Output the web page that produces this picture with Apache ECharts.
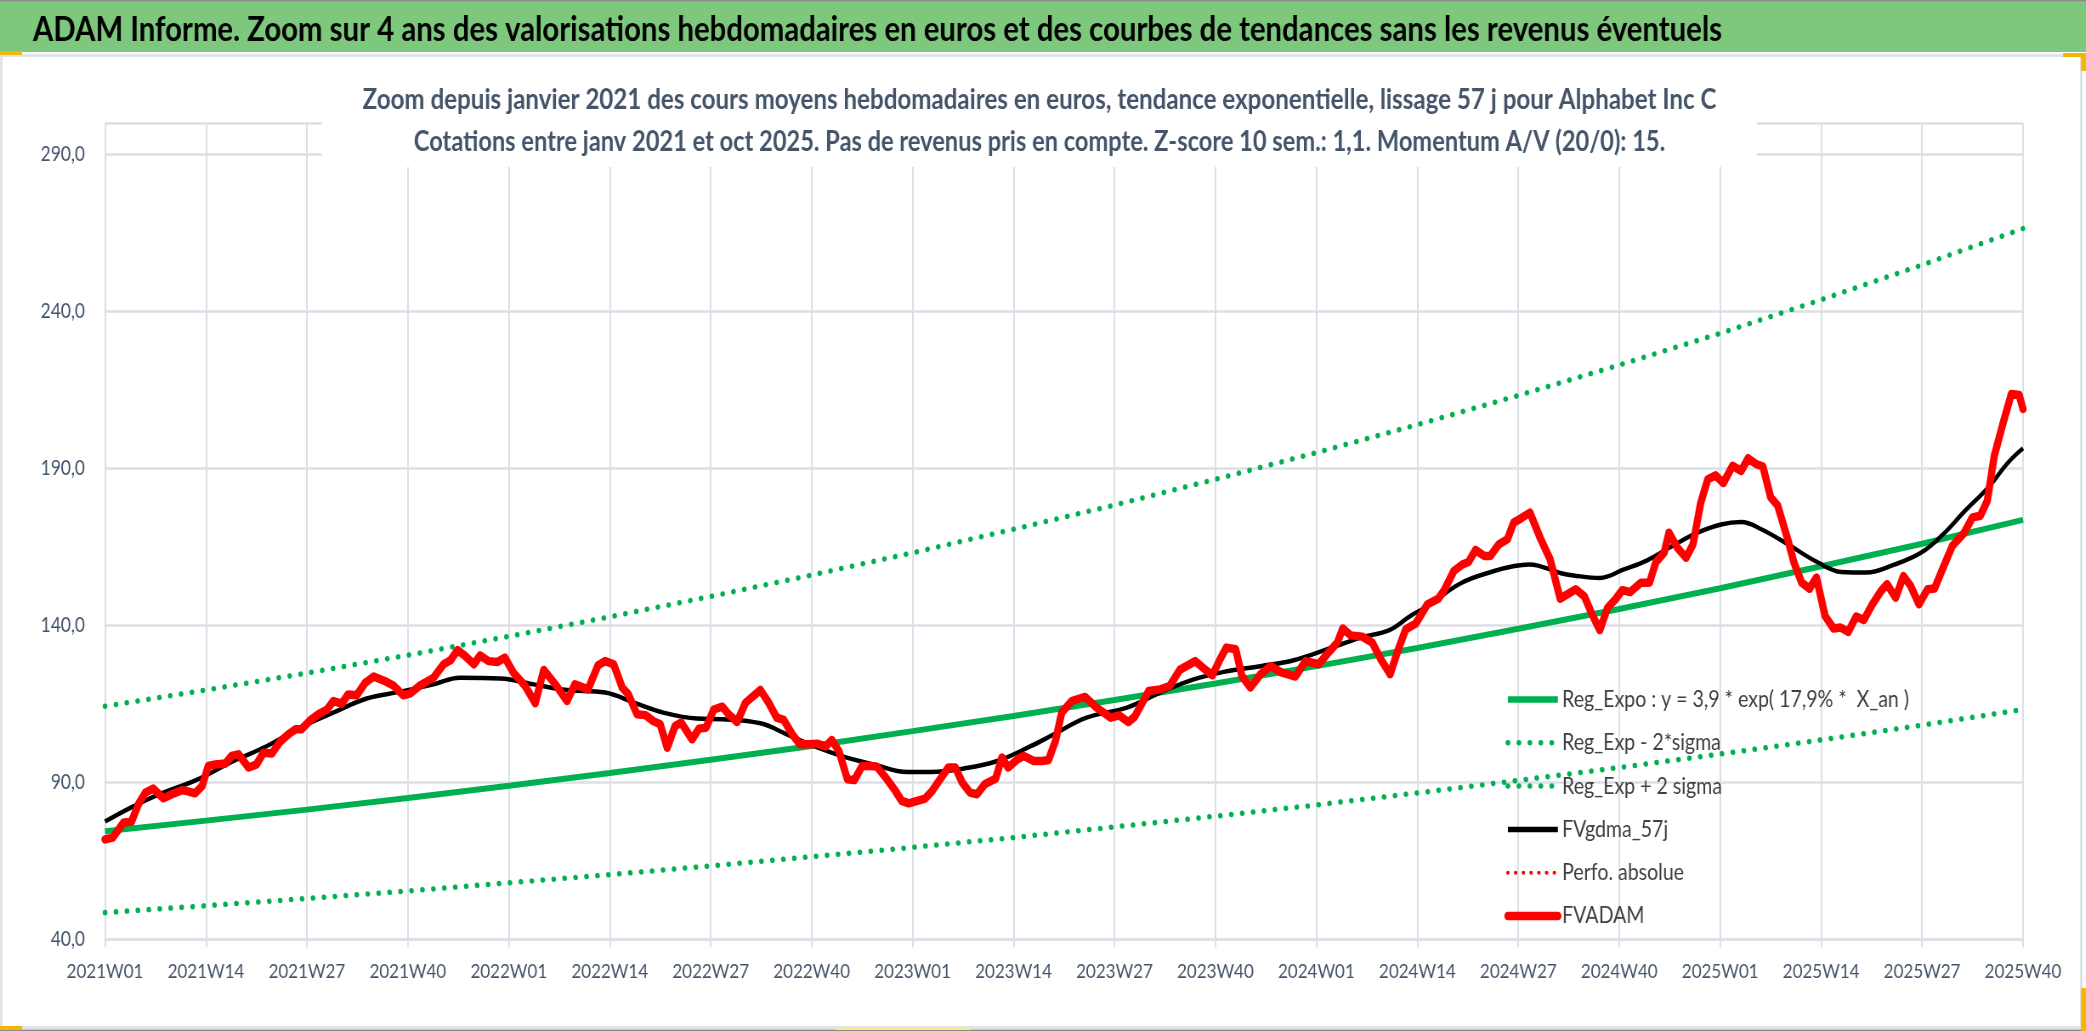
<!DOCTYPE html>
<html>
<head>
<meta charset="utf-8">
<title>ADAM Informe - Alphabet Inc C</title>
<script src="https://cdn.jsdelivr.net/npm/echarts@6/dist/echarts.min.js"></script>
<style>
  html, body { margin: 0; padding: 0; background: #fff; overflow: hidden; }
  /* the reference picture is squeezed horizontally, so the chart is drawn wider and squeezed back */
  #main { width: 2454px; height: 1031px; transform: scaleX(0.85); transform-origin: 0 0; }
</style>
</head>
<body>
<div id="main"></div>
<script>
const SX = 0.85;
const X = v => v / SX;

// x axis: one point per week, a label every 13 weeks
const weekLabels = ['2021W01','2021W14','2021W27','2021W40','2022W01','2022W14','2022W27','2022W40',
  '2023W01','2023W14','2023W27','2023W40','2024W01','2024W14','2024W27','2024W40',
  '2025W01','2025W14','2025W27','2025W40'];
const labelStep = 13;
const yMin = 40, yMax = 300, yStep = 50;

// regression and bands, read at each labelled week
const regExpo = [74.4, 77.8, 81.3, 85.0, 88.9, 93.0, 97.2, 101.6, 106.3, 111.1,
  116.2, 121.5, 127.0, 132.8, 138.9, 145.2, 151.8, 158.8, 166.0, 173.6];
const regLow = [48.5, 50.7, 53.0, 55.4, 58.0, 60.6, 63.4, 66.3, 69.3, 72.4,
  75.8, 79.2, 82.8, 86.6, 90.6, 94.7, 99.0, 103.5, 108.2, 113.2];
const regHigh = [114.2, 119.4, 124.8, 130.5, 136.5, 142.7, 149.2, 156.0, 163.1, 170.6,
  178.3, 186.5, 195.0, 203.9, 213.2, 222.9, 233.0, 243.7, 254.8, 266.4];

// [week index, value]
const fvgdma = [[0,77.5],[3.2,81.8],[7.1,86.3],[11.8,90.8],[16.5,96.7],[20.8,101.5],[25.1,107.4],
  [29.4,112.2],[33.7,116.7],[37.9,118.8],[42.3,121.2],[45.7,123.3],[50.9,123.1],[55.2,121.2],
  [59.5,119.4],[64.4,118.6],[68.3,115.2],[71.9,112.2],[76.2,110.3],[79.6,110.1],[84.4,108.8],
  [87.8,105.3],[91.3,101.5],[95.1,98.2],[99,95.7],[103.3,93.3],[106.3,93.3],[110.6,94.4],
  [114.9,96.8],[119.2,101.5],[122.2,105.3],[126.4,110.6],[131.6,113.8],[135.9,118.6],[140.2,122.8],
  [144.5,125.4],[148.8,127.0],[153.1,128.9],[157.4,132.4],[161.7,136.1],[165.4,138.5],[168.1,143.0],
  [170.3,146.1],[174.6,153.4],[178.9,157.3],[181.5,158.9],[183.4,159.4],[187.5,156.6],[189.1,155.9],
  [192.5,155.1],[195.6,157.8],[198.6,160.7],[202,165.5],[205.1,169.5],[208.1,172.1],[210.7,172.9],
  [213.3,170.6],[216.7,165.8],[220.6,160.0],[223.6,157.0],[226.8,156.8],[230.5,159.4],[233.9,163.2],
  [236.5,168.5],[239.5,176.4],[242.5,183.9],[245.1,191.9],[247,196.4]];

const fvadam = [[0,71.8],[1,72.4],[2.4,77.2],[3.4,77.4],[4.3,83.0],[5.2,86.7],[6.2,88.0],[7.5,84.9],
  [8.6,86.2],[9.9,87.5],[10.7,87.1],[11.6,86.5],[12.5,88.8],[13.3,95.2],[14.2,95.7],[15.5,96.0],
  [16.3,98.4],[17.2,98.9],[18.5,94.7],[19.5,95.7],[20.4,99.4],[21.5,99.2],[22.5,102.8],[23.6,105.3],
  [24.5,106.9],[25.3,106.9],[26.4,109.7],[27.5,111.7],[28.6,113.2],[29.4,115.9],[30.5,115.1],
  [31.3,118.0],[32.4,117.7],[33.5,121.7],[34.6,123.7],[36.0,122.3],[37.1,120.9],[38.4,117.7],
  [39.3,118.3],[40.6,120.9],[42.3,123.3],[43.6,127.6],[44.5,128.9],[45.4,132.1],[46.4,130.2],
  [47.5,127.6],[48.3,130.4],[49.4,128.6],[50.5,128.3],[51.5,129.7],[52.6,124.9],[54.1,120.7],
  [55.4,115.2],[56.5,125.8],[58.0,121.2],[59.5,115.9],[60.5,121.2],[62.2,119.6],[63.5,127.3],
  [64.4,128.6],[65.5,127.6],[66.6,120.2],[67.4,118.0],[68.5,111.7],[69.6,111.4],[70.6,109.5],
  [71.5,108.5],[72.4,101.0],[73.4,107.9],[74.2,109.0],[75.6,103.7],[76.5,107.1],[77.4,107.4],
  [78.4,113.2],[79.5,114.1],[80.3,111.7],[81.4,109.2],[82.5,115.4],[84.4,119.4],[85.5,115.2],
  [86.5,110.6],[87.4,109.9],[88.5,105.3],[89.5,102.1],[90.6,102.1],[91.7,102.3],[92.8,101.4],
  [93.6,103.5],[94.5,100.0],[95.6,91.0],[96.5,90.7],[97.5,95.2],[98.6,95.2],[99.4,95.0],
  [100.7,91.0],[101.8,87.2],[102.6,84.1],[103.5,83.3],[104.6,84.1],[105.6,84.8],[106.5,87.2],
  [107.6,91.2],[108.6,94.7],[109.5,94.7],[110.4,89.9],[111.4,86.7],[112.3,86.2],[113.3,89.4],
  [114.7,91.2],[115.5,97.9],[116.3,94.7],[117.5,97.3],[118.3,98.4],[119.6,96.8],[120.7,96.8],
  [121.5,97.1],[122.4,103.2],[123.2,112.2],[124.5,115.9],[126.2,117.2],[127.7,113.8],[129.5,110.6],
  [130.6,111.3],[131.8,109.2],[132.6,110.9],[134.4,119.1],[135.9,119.6],[137.1,120.7],[138.4,125.8],
  [140.4,128.6],[141.4,126.5],[142.6,124.1],[143.6,129.2],[144.4,132.9],[145.6,132.4],[146.4,123.9],
  [147.5,120.2],[148.8,124.4],[150.1,127.0],[151.4,125.1],[153.3,123.7],[154.6,128.6],[156.3,127.6],
  [157.6,131.5],[158.7,134.5],[159.4,139.0],[160.4,136.8],[161.9,136.4],[163.2,134.5],[164.3,129.2],
  [165.5,124.4],[166.4,131.3],[167.5,138.7],[168.8,140.6],[170.3,146.7],[171.7,148.5],[172.4,150.9],
  [173.7,157.3],[174.8,159.4],[175.6,160.2],[176.5,164.0],[177.6,162.1],[178.4,162.1],[179.5,165.8],
  [180.6,167.4],[181.4,172.7],[182.3,174.0],[183.5,175.9],[184.9,167.4],[186.1,161.0],[187.4,148.5],
  [189.4,151.5],[190.5,149.3],[191.5,143.5],[192.5,138.5],[193.5,145.6],[194.5,148.3],[195.4,151.2],
  [196.4,150.6],[197.8,153.6],[198.9,153.6],[199.7,160.0],[200.8,163.2],[201.4,169.5],[202.5,164.7],
  [203.6,161.5],[204.5,165.8],[205.5,179.1],[206.4,186.5],[207.4,187.8],[208.4,185.3],[209.6,190.8],
  [210.7,189.2],[211.6,193.2],[212.6,191.4],[213.5,190.6],[214.5,180.8],[215.4,178.2],[216.7,167.4],
  [217.5,160.0],[218.5,153.6],[219.5,151.7],[220.4,155.2],[221.5,143.0],[222.6,139.0],[223.5,139.3],
  [224.5,137.9],[225.5,142.8],[226.5,141.7],[227.6,146.7],[228.7,150.9],[229.5,153.1],[230.6,148.8],
  [231.6,155.7],[232.5,152.7],[233.6,146.7],[234.7,151.5],[235.6,151.7],[236.8,158.9],[237.9,165.3],
  [239.4,169.4],[240.5,174.4],[241.5,174.9],[242.4,179.7],[243.3,194.0],[244.4,204.1],[245.5,213.7],
  [246.5,213.4],[247,208.9]];

const names = ['Reg_Expo : y = 3,9 * exp( 17,9% *  X_an )', 'Reg_Exp - 2*sigma', 'Reg_Exp + 2 sigma',
  'FVgdma_57j', 'Perfo. absolue', 'FVADAM'];
const mainTitle = 'ADAM Informe. Zoom sur 4 ans des valorisations hebdomadaires en euros et des courbes de tendances sans les revenus éventuels';
const subTitle1 = 'Zoom depuis janvier 2021 des cours moyens hebdomadaires en euros, tendance exponentielle, lissage 57 j pour Alphabet Inc C';
const subTitle2 = 'Cotations entre janv 2021 et oct 2025. Pas de revenus pris en compte. Z-score 10 sem.: 1,1. Momentum A/V (20/0): 15.';

const GREEN = '#00b050', RED = '#ff0000', GRID = '#dcdfe6', TXT = '#44546a';
const FONT = 'Lato, "Open Sans", sans-serif';
const dots = { width: 5.5, type: [0.1, 12.8], cap: 'round' };
const redDots = { width: 4, type: [0.1, 9], cap: 'round' };
const atTicks = arr => arr.map((v, i) => [i * labelStep, v]);

const chart = echarts.init(document.getElementById('main'));
chart.setOption({
  animation: false,
  backgroundColor: '#fff',
  graphic: [
    { type: 'rect', left: 0, top: 54, z: -10, shape: { width: X(2080), height: 972 },
      style: { fill: '#fff', stroke: '#e0e3e9', lineWidth: 3 } },
    { type: 'rect', left: 0, top: 0, z: -5, shape: { width: X(2086), height: 52 }, style: { fill: '#7dc87d' } },
    { type: 'rect', left: 0, top: 0, z: -4, shape: { width: X(2086), height: 1.5 }, style: { fill: '#8c8c8c' } },
    { type: 'rect', left: 0, top: 1029.5, z: -4, shape: { width: X(2086), height: 1.5 }, style: { fill: '#8c8c8c' } },
    { type: 'rect', left: 0, top: 51, shape: { width: X(22), height: 4 }, style: { fill: '#f2b705' } },
    { type: 'rect', left: X(2063), top: 53, shape: { width: X(23), height: 4 }, style: { fill: '#f2b705' } },
    { type: 'rect', left: X(2081), top: 53, shape: { width: X(5), height: 18 }, style: { fill: '#f2b705' } },
    { type: 'rect', left: 0, top: 1026, shape: { width: X(22), height: 4 }, style: { fill: '#f2b705' } },
    { type: 'rect', left: X(835), top: 1027, shape: { width: X(135), height: 3 }, style: { fill: '#f7e98c' } },
    { type: 'rect', left: X(2081), top: 988, shape: { width: X(5), height: 43 }, style: { fill: '#f2b705' } },
    { type: 'text', x: X(33), y: 30,
      style: { text: mainTitle, fontFamily: FONT, fontSize: 34.5, fontWeight: 'bold', fill: '#000',
        align: 'left', verticalAlign: 'middle' } },
    // chart title box, white so it hides the grid lines behind it
    { type: 'rect', x: X(322), y: 76, z: 50, shape: { width: X(1435), height: 91 }, style: { fill: '#fff' } },
    { type: 'text', x: X(1039.5), y: 99.5, z: 51,
      style: { text: subTitle1, fontFamily: FONT, fontSize: 28.4, fontWeight: 'bold', fill: TXT,
        align: 'center', verticalAlign: 'middle' } },
    { type: 'text', x: X(1039.5), y: 142.5, z: 51,
      style: { text: subTitle2, fontFamily: FONT, fontSize: 27.8, fontWeight: 'bold', fill: TXT,
        align: 'center', verticalAlign: 'middle' } }
  ],
  legend: {
    orient: 'vertical',
    left: X(1500),
    top: 683,
    itemWidth: X(50),
    itemHeight: 20,
    itemGap: 20.3,
    itemStyle: { opacity: 0 },
    textStyle: { fontFamily: FONT, fontSize: 23, color: '#404040' },
    data: [
      { name: names[0], lineStyle: { width: 6.5 } },
      { name: names[1], lineStyle: dots },
      { name: names[2], lineStyle: dots },
      { name: names[3], lineStyle: { width: 5.5 } },
      { name: names[4], lineStyle: redDots },
      { name: names[5], lineStyle: { width: 8.5, cap: 'round' } }
    ]
  },
  grid: { left: X(105), right: 2454 - X(2023), top: 123, bottom: 91.7, containLabel: false },
  xAxis: {
    type: 'value',
    min: 0,
    max: (weekLabels.length - 1) * labelStep,
    interval: labelStep,
    axisLine: { show: true, lineStyle: { color: GRID, width: 2.5 } },
    axisTick: { show: true, length: 8, lineStyle: { color: GRID, width: 2 } },
    splitLine: { show: true, lineStyle: { color: GRID, width: 2 } },
    axisLabel: {
      margin: 22, fontFamily: FONT, fontSize: 20, color: TXT,
      showMinLabel: true, showMaxLabel: true,
      formatter: v => weekLabels[Math.round(v / labelStep)] || ''
    }
  },
  yAxis: {
    type: 'value',
    min: yMin,
    max: yMax,
    interval: yStep,
    axisLine: { show: false },
    axisTick: { show: false },
    splitLine: { show: true, lineStyle: { color: GRID, width: 2.5 } },
    axisLabel: {
      margin: X(20), fontFamily: FONT, fontSize: 20.5, color: TXT,
      formatter: v => (v >= yMax ? '' : v.toFixed(1).replace('.', ','))
    }
  },
  series: [
    { name: names[0], type: 'line', symbol: 'none', data: atTicks(regExpo), z: 2,
      itemStyle: { color: GREEN }, lineStyle: { color: GREEN, width: 6 } },
    { name: names[1], type: 'line', symbol: 'none', data: atTicks(regLow), z: 2,
      itemStyle: { color: GREEN }, lineStyle: Object.assign({ color: GREEN }, dots) },
    { name: names[2], type: 'line', symbol: 'none', data: atTicks(regHigh), z: 2,
      itemStyle: { color: GREEN }, lineStyle: Object.assign({ color: GREEN }, dots) },
    { name: names[3], type: 'line', symbol: 'none', data: fvgdma, smooth: 0.4, z: 3,
      itemStyle: { color: '#000' }, lineStyle: { color: '#000', width: 4.5 } },
    { name: names[4], type: 'line', symbol: 'none', data: [], z: 3,
      itemStyle: { color: RED }, lineStyle: Object.assign({ color: RED }, redDots) },
    { name: names[5], type: 'line', symbol: 'none', data: fvadam, z: 4,
      itemStyle: { color: RED }, lineStyle: { color: RED, width: 8.5, join: 'round', cap: 'round' } }
  ]
});
</script>
</body>
</html>
